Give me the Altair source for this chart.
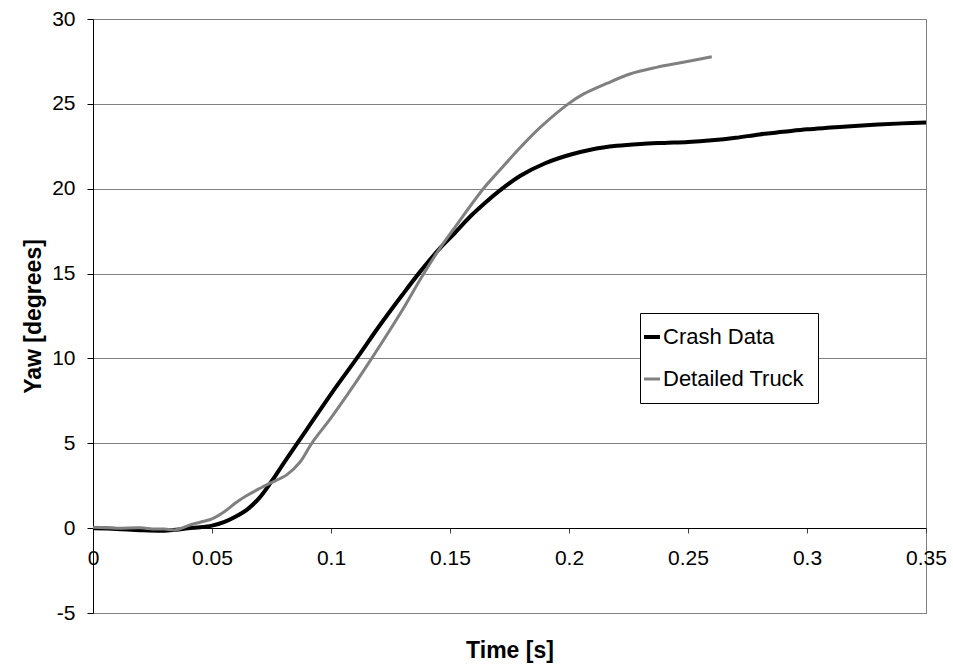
import altair as alt
import pandas as pd

crash_t = [0, 0.01, 0.02, 0.03, 0.035, 0.04, 0.045, 0.05, 0.055, 0.06, 0.065, 0.07,
           0.075, 0.08, 0.0858, 0.09, 0.1, 0.1108, 0.12, 0.13, 0.1374, 0.1458, 0.1514,
           0.1584, 0.1654, 0.171, 0.1794, 0.19, 0.2004, 0.21, 0.22, 0.23, 0.24, 0.25, 0.26,
           0.27, 0.28, 0.29, 0.3, 0.31, 0.32, 0.33, 0.34, 0.35]
crash_yaw = [0, -0.05, -0.12, -0.15, -0.1, 0, 0.05, 0.15, 0.35, 0.68, 1.12, 1.8,
             2.75, 3.8, 5.0, 5.85, 7.9, 10.0, 11.85, 13.75, 15.1, 16.5, 17.3,
             18.35, 19.25, 19.9, 20.75, 21.5, 22.0, 22.33, 22.53, 22.64, 22.7, 22.75, 22.85,
             23.0, 23.2, 23.35, 23.5, 23.6, 23.7, 23.78, 23.85, 23.9]

truck_t = [0, 0.01, 0.02, 0.025, 0.03, 0.035, 0.04, 0.045, 0.05, 0.055, 0.06, 0.065,
           0.0702, 0.0744, 0.0814, 0.087, 0.0919, 0.1, 0.11, 0.1171, 0.13,
           0.1381, 0.1458, 0.1514, 0.164, 0.17, 0.18, 0.1878, 0.1997, 0.206, 0.2158,
           0.2256, 0.2368, 0.248, 0.26]
truck_yaw = [0.05, 0.0, 0.02, -0.05, -0.05, -0.1, 0.15, 0.35, 0.55, 0.95, 1.5, 1.95,
             2.35, 2.65, 3.14, 3.9, 5.0, 6.5, 8.5, 10.0, 12.85,
             14.8, 16.5, 17.6, 20.0, 20.95, 22.5, 23.6, 25.0, 25.57, 26.2,
             26.76, 27.15, 27.45, 27.78]

series_names = ["Crash Data", "Detailed Truck"]
series_colors = ["#000000", "#808080"]
series_widths = [4, 3]

x_ticks = [0, 0.05, 0.1, 0.15, 0.2, 0.25, 0.3, 0.35]
y_ticks = [-5, 0, 5, 10, 15, 20, 25, 30]

df = pd.concat([
    pd.DataFrame({"t": crash_t, "yaw": crash_yaw, "series": series_names[0]}),
    pd.DataFrame({"t": truck_t, "yaw": truck_yaw, "series": series_names[1]}),
])

FONT = "Liberation Sans"

chart = alt.Chart(df).mark_line(interpolate="catmull-rom").encode(
    x=alt.X("t:Q", scale=alt.Scale(domain=[0, 0.35], nice=False),
            axis=alt.Axis(title="Time [s]", values=x_ticks, offset=-85,
                          labelExpr="'' + datum.value", grid=False,
                          domainColor="#000000", tickColor="#404040", tickSize=5,
                          labelPadding=14, labelFontSize=21, labelColor="#000000",
                          labelFont=FONT, titleFont=FONT, titleFontSize=23,
                          titleFontWeight="bold", titleY=122, titleBaseline="middle",
                          labelOverlap=False, labelFlush=False)),
    y=alt.Y("yaw:Q", scale=alt.Scale(domain=[-5, 30], nice=False),
            axis=alt.Axis(title="Yaw [degrees]", values=y_ticks,
                          labelExpr="'' + datum.value", grid=True,
                          gridColor="#808080", gridWidth=1,
                          domainColor="#000000", tickColor="#000000", tickSize=6,
                          labelPadding=12, labelFontSize=21, labelColor="#000000",
                          labelFont=FONT, titleFont=FONT, titleFontSize=23,
                          titleFontWeight="bold", titlePadding=6,
                          labelOverlap=False, labelFlush=False)),
    color=alt.Color("series:N", scale=alt.Scale(domain=series_names, range=series_colors),
                    legend=alt.Legend(title=None, orient="none", legendX=547, legendY=294,
                                      fillColor="#ffffff", strokeColor="#000000",
                                      padding=13, symbolType="stroke", symbolSize=256,
                                      symbolOffset=-12, labelOffset=0, rowPadding=20,
                                      labelFont=FONT, labelFontSize=22,
                                      labelColor="#000000", labelLimit=300)),
    strokeWidth=alt.StrokeWidth("series:N",
                                scale=alt.Scale(domain=series_names, range=series_widths),
                                legend=None),
).properties(
    width=833, height=594,
    autosize=alt.AutoSizeParams(type="none"),
    padding={"left": 93, "top": 19, "right": 27, "bottom": 53},
).configure_view(stroke="#808080", strokeWidth=1)

chart.save("out.html", embed_options={"renderer": "svg", "actions": False})
